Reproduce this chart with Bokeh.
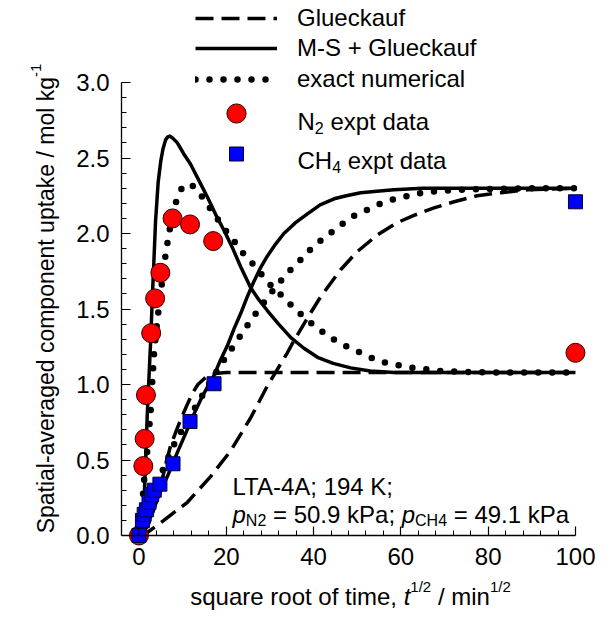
import math
from bokeh.plotting import figure
from bokeh.models import (Range1d, LinearAxis, FixedTicker, Label, Legend, LegendItem,
                          NumeralTickFormatter)
from bokeh.embed import file_html
from bokeh.resources import INLINE

FONT = "Liberation Sans"

# ---------------- data ----------------
# experimental points
n2_expt_x = [0, 1.0, 1.3, 1.6, 2.8, 3.7, 4.9, 7.7, 11.7, 17.0, 100]
n2_expt_y = [0, 0.46, 0.64, 0.93, 1.34, 1.57, 1.74, 2.10, 2.06, 1.95, 1.21]
ch4_expt_x = [0, 0.8, 1.2, 1.7, 2.3, 2.9, 3.5, 4.8, 7.8, 11.7, 17.2, 100]
ch4_expt_y = [0, 0.10, 0.14, 0.17, 0.22, 0.27, 0.30, 0.34, 0.475, 0.755, 1.005, 2.21]

# Glueckauf (dashed)
glue_n2_x = [0, 2, 3.5, 5, 6.2, 7.3, 8.5, 9.6, 10.8, 12.2, 13.5, 15, 16.5, 18, 20, 100]
glue_n2_y = [0, 0.06, 0.18, 0.33, 0.48, 0.60, 0.69, 0.77, 0.85, 0.94, 1.0, 1.04, 1.065, 1.075, 1.08, 1.08]
glue_ch4_x = [0, 1.9, 5.7, 11.1, 16.4, 21, 25.6, 29.4, 31.3, 34, 35.5, 38.6, 41.6, 46.2, 50, 54.6,
              59, 63, 67.6, 72.2, 77.5, 82.9, 89, 100]
glue_ch4_y = [0, 0.02, 0.10, 0.22, 0.39, 0.56, 0.78, 0.99, 1.08, 1.21, 1.29, 1.44, 1.58, 1.76, 1.88,
              1.99, 2.07, 2.12, 2.17, 2.21, 2.25, 2.27, 2.29, 2.30]

# M-S + Glueckauf (solid)
ms_n2_x = [0, 0.6, 1.15, 1.5, 1.9, 2.3, 2.7, 3.07, 3.4, 3.8, 4.4, 5.0, 5.5, 6.1, 6.6, 7.1, 7.8,
           8.8, 10.2, 11.8, 14.1, 15.7, 17.5, 19.5, 21.5, 23.3, 25.6, 27.5, 29.4, 32, 34.8, 37.8,
           40.9, 44.5, 48.5, 53, 58.4, 65, 75, 100]
ms_n2_y = [0, 0.06, 0.22, 0.47, 0.80, 1.05, 1.30, 1.58, 1.80, 2.08, 2.34, 2.48, 2.56, 2.62, 2.64,
           2.645, 2.63, 2.60, 2.53, 2.46, 2.33, 2.24, 2.13, 2.02, 1.90, 1.78, 1.64, 1.56, 1.49,
           1.40, 1.31, 1.24, 1.18, 1.14, 1.11, 1.09, 1.08, 1.08, 1.08, 1.08]
ms_ch4_x = [0, 1, 2, 3, 4.2, 5.5, 6.5, 7.8, 8.8, 10, 11.8, 13, 14.5, 16, 17.2, 18.5, 20.3, 21.8,
            23.3, 24.8, 26.3, 27.8, 29.4, 31.3, 33.2, 35.8, 38.6, 41.5, 44.7, 47.5, 50.8, 54.5,
            58.4, 65, 75, 100]
ms_ch4_y = [0, 0.03, 0.08, 0.15, 0.24, 0.33, 0.39, 0.48, 0.55, 0.63, 0.75, 0.83, 0.92, 1.0, 1.06,
            1.15, 1.26, 1.37, 1.47, 1.58, 1.68, 1.77, 1.85, 1.93, 2.0, 2.07, 2.13, 2.19, 2.23,
            2.25, 2.27, 2.28, 2.29, 2.30, 2.30, 2.30]

# exact numerical (dotted)
ex_n2_x = [0, 0.6, 1.15, 1.9, 2.7, 3.07, 3.45, 3.85, 4.2, 4.6, 5.0, 5.35, 6.1, 6.65, 7.5, 8.6,
           9.8, 11.2, 12.6, 13.8, 15.0, 17.2, 19.3, 21.8, 24.1, 26.7, 29.4, 32.3, 35.4, 38.4,
           41.5, 44.5, 47.7, 50.8, 53.8, 56.9, 60, 63, 66, 69, 73, 80, 100]
ex_n2_y = [0, 0.15, 0.36, 0.56, 0.83, 1.03, 1.20, 1.33, 1.42, 1.52, 1.61, 1.69, 1.86, 1.96, 2.10,
           2.22, 2.30, 2.33, 2.31, 2.27, 2.22, 2.13, 2.04, 1.95, 1.86, 1.78, 1.68, 1.60, 1.51,
           1.43, 1.36, 1.30, 1.25, 1.21, 1.17, 1.14, 1.125, 1.11, 1.10, 1.09, 1.085, 1.08, 1.08]
ex_ch4_x = [0, 1, 2, 3.4, 5.7, 8.0, 9.9, 11.6, 13.4, 15.0, 16.8, 18.7, 20.6, 22.7, 24.8, 27,
            29.3, 31.7, 34.4, 37.2, 40.1, 43.3, 46.4, 49.4, 52.5, 55.5, 58.6, 61.9, 64.9, 68,
            71, 74, 80, 90, 100]
ex_ch4_y = [0, 0.06, 0.15, 0.30, 0.45, 0.60, 0.70, 0.79, 0.87, 0.95, 1.04, 1.13, 1.21, 1.30,
            1.39, 1.48, 1.57, 1.66, 1.75, 1.83, 1.92, 1.99, 2.06, 2.12, 2.16, 2.20, 2.23, 2.25,
            2.27, 2.28, 2.285, 2.29, 2.295, 2.30, 2.30]

# axis ticks
x_major_ticks = [0, 20, 40, 60, 80, 100]
x_minor_ticks = [4, 8, 12, 16, 24, 28, 32, 36, 44, 48, 52, 56, 64, 68, 72, 76, 84, 88, 92, 96]
y_major_ticks = [0, 0.5, 1.0, 1.5, 2.0, 2.5, 3.0]
y_minor_ticks = [0.1, 0.2, 0.3, 0.4, 0.6, 0.7, 0.8, 0.9, 1.1, 1.2, 1.3, 1.4, 1.6, 1.7, 1.8,
                 1.9, 2.1, 2.2, 2.3, 2.4, 2.6, 2.7, 2.8, 2.9]

legend_line_labels = ["Glueckauf", "M-S + Glueckauf", "exact numerical"]

# ---------------- figure: the frame fills the whole canvas ----------------
W, H = 614, 629
OFF = 0                 # canvas px = picture px - OFF
AX, AY = 121.0 - OFF, 535.0 - OFF   # canvas position of the axes' corner, data (-4, 0)
PX_X = 4.365            # px per x unit
PX_Y = 151.0            # px per y unit
x_start = -4 - AX / PX_X
x_end = -4 + (W - AX) / PX_X
y_start = -(H - AY) / PX_Y
y_end = AY / PX_Y
p = figure(width=W, height=H, x_range=Range1d(x_start, x_end), y_range=Range1d(y_start, y_end),
           output_backend="svg", toolbar_location=None, x_axis_type=None, y_axis_type=None,
           min_border=0, min_border_left=0, min_border_right=0, min_border_top=0,
           min_border_bottom=0)
p.outline_line_color = None
p.background_fill_color = "white"
p.border_fill_color = "white"

xaxis = LinearAxis(ticker=FixedTicker(ticks=x_major_ticks, minor_ticks=x_minor_ticks),
                   bounds=(-4, 100), fixed_location=0)
yaxis = LinearAxis(ticker=FixedTicker(ticks=y_major_ticks, minor_ticks=y_minor_ticks),
                   bounds=(0, 3), fixed_location=-4, formatter=NumeralTickFormatter(format="0.0"))
for ax in (xaxis, yaxis):
    ax.axis_line_color = "black"
    ax.axis_line_width = 1.3
    ax.major_tick_in = 9
    ax.major_tick_out = 0
    ax.minor_tick_in = 5
    ax.minor_tick_out = 0
    ax.major_tick_line_color = "black"
    ax.minor_tick_line_color = "black"
    ax.major_tick_line_width = 1.2
    ax.minor_tick_line_width = 1.0
    ax.major_label_text_font = FONT
    ax.major_label_text_font_size = "24px"
    ax.major_label_text_color = "black"
xaxis.major_label_standoff = 12
yaxis.major_label_standoff = 12
p.add_layout(xaxis, "below")
p.add_layout(yaxis, "left")

LW = 3.5
DASH = "18 8"
DOT = "0 14"
r_ex_n2 = p.line(ex_n2_x, ex_n2_y, line_color="black", line_width=6.5, line_dash=DOT, line_cap="round")
r_ex_ch4 = p.line(ex_ch4_x, ex_ch4_y, line_color="black", line_width=6.5, line_dash=DOT, line_cap="round")
r_gl_n2 = p.line(glue_n2_x, glue_n2_y, line_color="black", line_width=LW, line_dash=DASH)
r_gl_ch4 = p.line(glue_ch4_x, glue_ch4_y, line_color="black", line_width=LW, line_dash=DASH)
r_ms_n2 = p.line(ms_n2_x, ms_n2_y, line_color="black", line_width=LW, line_join="round")
r_ms_ch4 = p.line(ms_ch4_x, ms_ch4_y, line_color="black", line_width=LW, line_join="round")
r_n2 = p.scatter(n2_expt_x, n2_expt_y, marker="circle", size=19, fill_color="#FF0000",
                 line_color="#2a0000", line_width=1)
r_ch4 = p.scatter(ch4_expt_x, ch4_expt_y, marker="square", size=14, fill_color="#0000FF",
                  line_color="#00002a", line_width=1)

# ---------------- legend (one legend per row) ----------------
GX = 195 - OFF   # glyph left (canvas px)
def add_row(label, renderer, center_y, h, font_size="24px"):
    c = center_y - OFF
    leg = Legend(items=[LegendItem(label=label, renderers=[renderer])],
                 location=(GX, H - (c + h / 2.0)),
                 padding=0, margin=0, spacing=0, glyph_width=82, glyph_height=h,
                 label_height=h, label_standoff=20, label_text_font=FONT,
                 label_text_font_size=font_size, label_text_color="black",
                 label_text_baseline="middle",
                 border_line_alpha=0, background_fill_alpha=0)
    p.add_layout(leg)

add_row(legend_line_labels[0], r_gl_n2, 18, 30)
add_row(legend_line_labels[1], r_ms_n2, 48, 30)
add_row(legend_line_labels[2], r_ex_n2, 79, 30)
add_row(" ", r_n2, 113, 48, "2px")
add_row(" ", r_ch4, 153, 35, "2px")

# ---------------- rich texts ----------------
AW = {' ': 278, '(': 333, ')': 333, '+': 584, ',': 278, '-': 333, '.': 278, '/': 278,
      ':': 278, ';': 278, '=': 584,
      'A': 667, 'B': 667, 'C': 722, 'D': 722, 'E': 667, 'F': 611, 'G': 778, 'H': 722, 'I': 278,
      'J': 500, 'K': 667, 'L': 556, 'M': 833, 'N': 722, 'O': 778, 'P': 667, 'Q': 778, 'R': 722,
      'S': 667, 'T': 611, 'U': 722, 'V': 667, 'W': 944, 'X': 667, 'Y': 667, 'Z': 611,
      'a': 556, 'b': 556, 'c': 500, 'd': 556, 'e': 556, 'f': 278, 'g': 556, 'h': 556, 'i': 222,
      'j': 222, 'k': 500, 'l': 222, 'm': 833, 'n': 556, 'o': 556, 'p': 556, 'q': 556, 'r': 333,
      's': 500, 't': 278, 'u': 556, 'v': 500, 'w': 722, 'x': 500, 'y': 500, 'z': 500}
for d in "0123456789":
    AW[d] = 556

def tw(s, size):
    return sum(AW.get(ch, 556) for ch in s) * size / 1000.0

def rich(segs, x_pic, base_pic, vertical=False):
    """x_pic / base_pic in picture pixels."""
    x_px, base_px = x_pic - OFF, base_pic - OFF
    pos = 0.0
    for text, size, style, shift in segs:
        lead = len(text) - len(text.lstrip(" "))
        t = text.strip(" ")
        if t:
            adv = pos + tw(" ", size) * lead
            if vertical:
                xo = x_px - AX - shift
                yo = AY - base_px + adv
                ang = math.pi / 2
            else:
                xo = x_px - AX + adv
                yo = AY - base_px + shift
                ang = 0
            p.add_layout(Label(x=-4, y=0, x_offset=xo, y_offset=yo, angle=ang, text=t,
                               text_font=FONT, text_font_size=f"{size}px",
                               text_font_style=style, text_color="black",
                               text_baseline="alphabetic", text_align="left"))
        pos += tw(text, size)
    return pos

def seg_width(segs):
    return sum(tw(t, s) for t, s, _, _ in segs)

# legend texts with subscripts
rich([("N", 24, "normal", 0), ("2", 16, "normal", -6), (" expt data", 24, "normal", 0)], 297, 121)
rich([("CH", 24, "normal", 0), ("4", 16, "normal", -6), (" expt data", 24, "normal", 0)], 297, 160)

# annotation
rich([("LTA-4A; 194 K;", 24, "normal", 0)], 232, 486)
rich([("p", 24, "italic", 0), ("N2", 16, "normal", -6), (" = 50.9 kPa; ", 24, "normal", 0),
      ("p", 24, "italic", 0), ("CH4", 16, "normal", -6), (" = 49.1 kPa", 24, "normal", 0)], 232, 514)

# x axis title
xt = [("square root of time, ", 24, "normal", 0), ("t", 24, "italic", 0),
      ("1/2", 15, "normal", 10), (" / min", 24, "normal", 0), ("1/2", 15, "normal", 10)]
rich(xt, 350 - seg_width(xt) / 2.0, 596)

# y axis title
yt = [("Spatial-averaged component uptake / mol kg", 23, "normal", 0), ("-1", 15, "normal", 10)]
rich(yt, 45, 298 + seg_width(yt) / 2.0, vertical=True)

open("out.html", "w").write(file_html(p, INLINE))
